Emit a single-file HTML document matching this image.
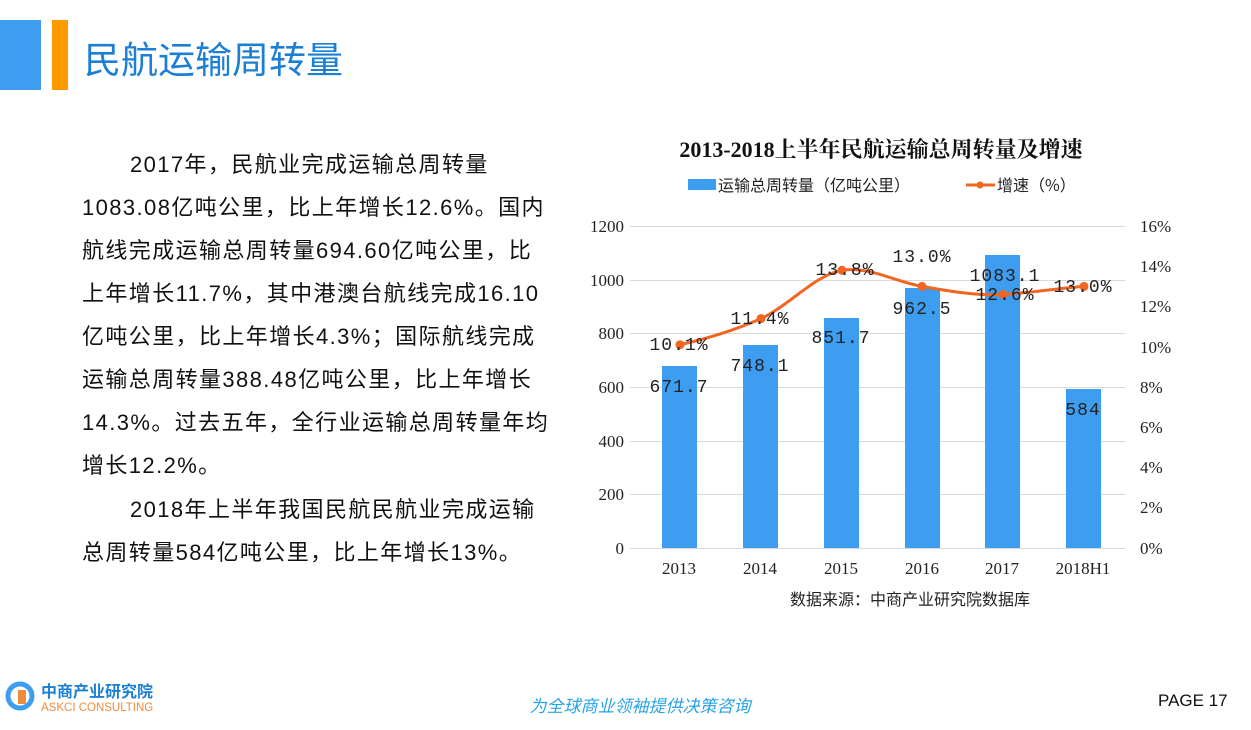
<!DOCTYPE html>
<html><head><meta charset="utf-8"><style>
body{margin:0;width:1251px;height:730px;background:#fff;position:relative;overflow:hidden;font-family:"Liberation Sans","Noto Sans CJK SC",sans-serif;}
.a{position:absolute;white-space:nowrap;}
.t{font-size:22px;letter-spacing:1.4px;color:#111;left:82px;}
</style></head><body>
<div class="a" style="left:0;top:20px;width:41px;height:70px;background:#3d9df0"></div>
<div class="a" style="left:52px;top:20px;width:16px;height:70px;background:#ff9900"></div>
<div class="a" style="left:84px;top:37px;font-size:37px;color:#1c7fd6;line-height:48px">民航运输周转量</div>

<div class="a t" style="top:147px;left:130px">2017年，民航业完成运输总周转量</div>
<div class="a t" style="top:190px">1083.08亿吨公里，比上年增长12.6%。国内</div>
<div class="a t" style="top:233px">航线完成运输总周转量694.60亿吨公里，比</div>
<div class="a t" style="top:276px">上年增长11.7%，其中港澳台航线完成16.10</div>
<div class="a t" style="top:319px">亿吨公里，比上年增长4.3%；国际航线完成</div>
<div class="a t" style="top:362px">运输总周转量388.48亿吨公里，比上年增长</div>
<div class="a t" style="top:405px">14.3%。过去五年，全行业运输总周转量年均</div>
<div class="a t" style="top:448px">增长12.2%。</div>
<div class="a t" style="top:492px;left:130px">2018年上半年我国民航民航业完成运输</div>
<div class="a t" style="top:535px">总周转量584亿吨公里，比上年增长13%。</div>

<svg class="a" style="left:0;top:0" width="1251" height="730">
<g font-family="Liberation Serif,'Noto Serif CJK SC',serif">
<text x="881" y="157" font-size="22" font-weight="bold" text-anchor="middle" fill="#111">2013-2018上半年民航运输总周转量及增速</text>
</g>
<g font-family="'Noto Sans CJK SC',sans-serif" font-size="16" fill="#222">
<rect x="688" y="179" width="28" height="11" fill="#3d9df0"/>
<text x="718" y="191">运输总周转量（亿吨公里）</text>
<line x1="966" y1="185" x2="995" y2="185" stroke="#f26522" stroke-width="3"/>
<circle cx="980" cy="185" r="3.5" fill="#f26522"/>
<text x="997" y="191">增速（%）</text>
</g>
<g stroke="#d9d9d9" stroke-width="1">
<line x1="630" y1="226.5" x2="1125" y2="226.5"/>
<line x1="630" y1="280.5" x2="1125" y2="280.5"/>
<line x1="630" y1="333.5" x2="1125" y2="333.5"/>
<line x1="630" y1="387.5" x2="1125" y2="387.5"/>
<line x1="630" y1="441.5" x2="1125" y2="441.5"/>
<line x1="630" y1="494.5" x2="1125" y2="494.5"/>
<line x1="630" y1="548.5" x2="1125" y2="548.5"/>
</g>
<g font-family="Liberation Serif,serif" font-size="17" fill="#222">
<g text-anchor="end">
<text x="624" y="232">1200</text><text x="624" y="286">1000</text><text x="624" y="339">800</text>
<text x="624" y="393">600</text><text x="624" y="447">400</text><text x="624" y="500">200</text><text x="624" y="554">0</text>
</g>
<g text-anchor="start">
<text x="1140" y="232">16%</text><text x="1140" y="272">14%</text><text x="1140" y="312">12%</text>
<text x="1140" y="353">10%</text><text x="1140" y="393">8%</text><text x="1140" y="433">6%</text>
<text x="1140" y="473">4%</text><text x="1140" y="513">2%</text><text x="1140" y="554">0%</text>
</g>
<g text-anchor="middle">
<text x="679" y="574">2013</text><text x="760" y="574">2014</text><text x="841" y="574">2015</text>
<text x="922" y="574">2016</text><text x="1002" y="574">2017</text><text x="1083" y="574">2018H1</text>
</g>
</g>
<g fill="#3d9df0">
<rect x="662" y="366" width="35" height="182"/>
<rect x="743" y="345" width="35" height="203"/>
<rect x="824" y="318" width="35" height="230"/>
<rect x="905" y="288" width="35" height="260"/>
<rect x="985" y="255" width="35" height="293"/>
<rect x="1066" y="389" width="35" height="159"/>
</g>
<path d="M680,344.7 C710,338 735,330 761,318.6 C790,305 815,275 842,270.3 C870,266 895,282 922,286.4 C950,291 975,296 1003,294.4 C1030,293 1060,288 1084,286.4" fill="none" stroke="#f26522" stroke-width="3"/>
<g fill="#f26522">
<circle cx="680" cy="344.7" r="4.5"/><circle cx="761" cy="318.6" r="4.5"/><circle cx="842" cy="270.3" r="4.5"/>
<circle cx="922" cy="286.4" r="4.5"/><circle cx="1003" cy="294.4" r="4.5"/><circle cx="1084" cy="286.4" r="4.5"/>
</g>
<g font-family="Liberation Mono,monospace" font-size="18" fill="#222" text-anchor="middle" letter-spacing="1">
<text x="679" y="350">10.1%</text><text x="760" y="324">11.4%</text><text x="845" y="275">13.8%</text>
<text x="922" y="262">13.0%</text><text x="1005" y="300">12.6%</text><text x="1083" y="292">13.0%</text>
<text x="679" y="392">671.7</text><text x="760" y="371">748.1</text><text x="841" y="343">851.7</text>
<text x="922" y="314">962.5</text><text x="1005" y="281">1083.1</text><text x="1083" y="415">584</text>
</g>
<text x="910" y="605" font-family="'Noto Sans CJK SC',sans-serif" font-size="16" fill="#222" text-anchor="middle">数据来源：中商产业研究院数据库</text>

<circle cx="20" cy="696" r="12" fill="none" stroke="#3d9df0" stroke-width="5"/>
<rect x="18" y="690" width="8" height="14" fill="#f08a3c"/>
<text x="41" y="697" font-family="'Noto Sans CJK SC',sans-serif" font-size="16" font-weight="bold" fill="#1c7fd6">中商产业研究院</text>
<text x="41" y="711" font-family="Liberation Sans,sans-serif" font-size="11.5" fill="#f08a3c">ASKCI CONSULTING</text>
<text x="640" y="712" font-family="'Noto Sans CJK SC',sans-serif" font-size="17" font-style="italic" fill="#29a3e6" text-anchor="middle">为全球商业领袖提供决策咨询</text>
<text x="1158" y="706" font-family="Liberation Sans,sans-serif" font-size="17" fill="#111">PAGE 17</text>
</svg>
</body></html>
